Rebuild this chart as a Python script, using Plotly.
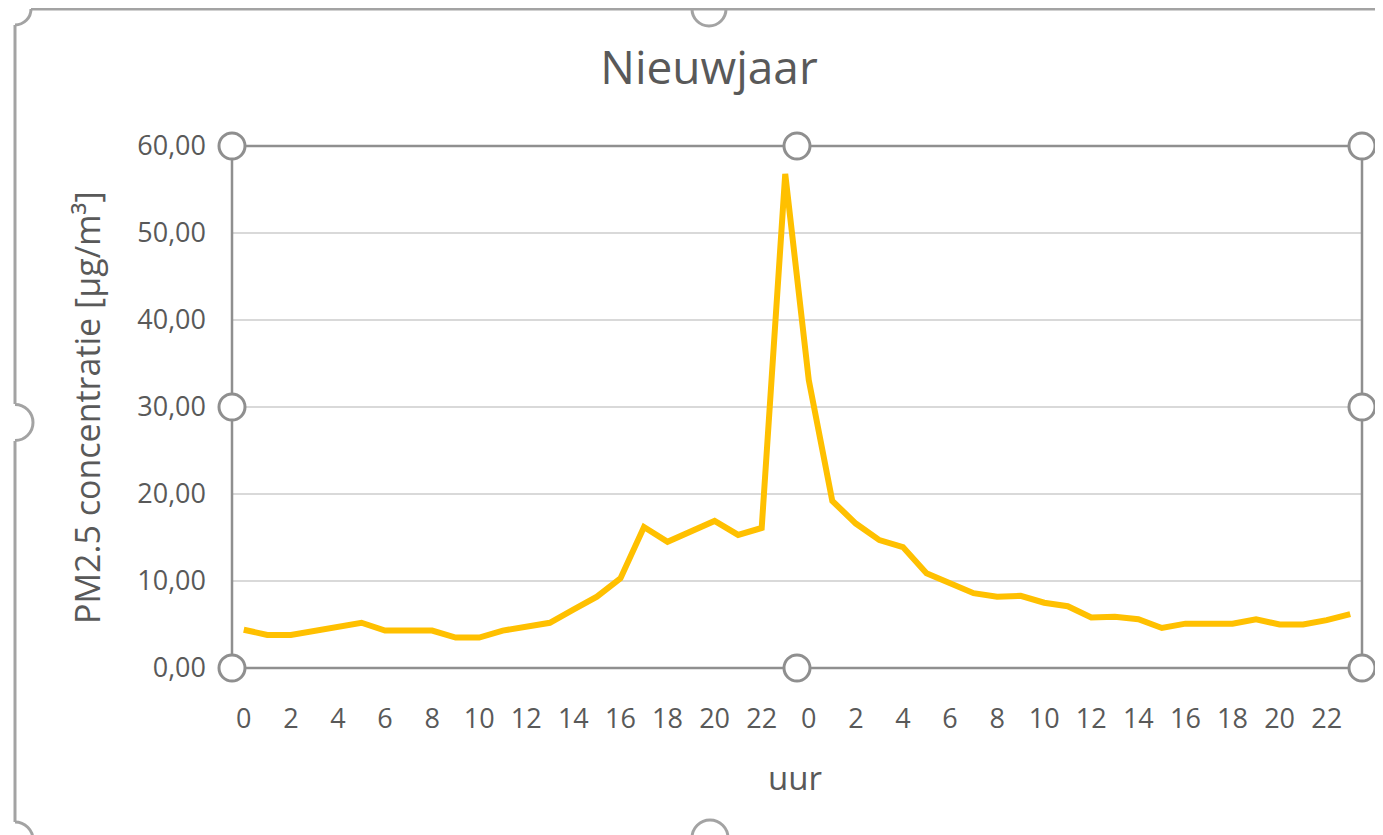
import math

import plotly.graph_objects as go

# PM2.5 per uur, twee dagen achter elkaar (oudejaarsdag en nieuwjaarsdag)
hours = list(range(24)) + list(range(24))
pm25 = [
    4.4, 3.8, 3.8, 4.3, 4.8, 5.2, 4.3, 4.3, 4.3, 3.5, 3.5, 4.3,
    4.8, 5.2, 6.7, 8.2, 10.3, 16.2, 14.5, 15.7, 16.9, 15.3, 16.1, 56.8,
    33.1, 19.2, 16.6, 14.7, 13.9, 10.9, 9.7, 8.6, 8.2, 8.3, 7.5, 7.1,
    5.8, 5.9, 5.6, 4.6, 5.1, 5.1, 5.1, 5.6, 5.0, 5.0, 5.5, 6.2,
]
tick_idx = list(range(0, 48, 2))
tick_text = [str(hours[i]) for i in tick_idx]
y_ticks = [0, 10, 20, 30, 40, 50, 60]

W, H = 1383, 835
OFF = 8                             # page body margin, figure starts at (8, 8)
L, R, T, B = 232, 1362, 146, 668    # plot area in screen pixels
FONT = "Open Sans"
TXT = "#595959"
HANDLE = "#8f8f8f"


def px(x, y):
    return (x - L) / (R - L), (B - y) / (B - T)


def arc(cx, cy, r, a0, a1):
    # cubic bezier arc in pixel space, returned as a paper-space path
    n = max(1, math.ceil(abs(a1 - a0) / (math.pi / 2)))
    step = (a1 - a0) / n
    k = 4 / 3 * math.tan(step / 4)
    p = px(cx + r * math.cos(a0), cy + r * math.sin(a0))
    d = f"M{p[0]},{p[1]}"
    for i in range(n):
        t0 = a0 + i * step
        t1 = t0 + step
        c1 = px(cx + r * (math.cos(t0) - k * math.sin(t0)), cy + r * (math.sin(t0) + k * math.cos(t0)))
        c2 = px(cx + r * (math.cos(t1) + k * math.sin(t1)), cy + r * (math.sin(t1) - k * math.cos(t1)))
        e = px(cx + r * math.cos(t1), cy + r * math.sin(t1))
        d += f" C{c1[0]},{c1[1]} {c2[0]},{c2[1]} {e[0]},{e[1]}"
    return d


def seg(x0, y0, x1, y1):
    a, b = px(x0, y0), px(x1, y1)
    return f"M{a[0]},{a[1]} L{b[0]},{b[1]}"


fig = go.Figure()
fig.add_trace(go.Scatter(
    x=list(range(len(pm25))), y=pm25, mode="lines",
    line=dict(color="#FFC000", width=6), hoverinfo="y", showlegend=False,
))

shapes = []
# outer chart frame with selection handles
frame = "#a3a3a3"
for d in [
    seg(31, 9, W + 5, 9),
    seg(15, 25, 15, 404),
    seg(15, 441, 15, 822),
    arc(15, 9, 16, 0, math.pi / 2),
    arc(709, 9, 17, 0, math.pi),
    arc(15, 422.5, 18, -math.pi / 2, math.pi / 2),
    arc(15, 840, 18, -math.pi / 2, 0),
    arc(710, 838, 18, math.pi, 2 * math.pi),
]:
    shapes.append(dict(type="path", path=d, xref="paper", yref="paper",
                       line=dict(color=frame, width=3), layer="above"))

# plot area border
shapes.append(dict(type="rect", xref="paper", yref="paper", x0=0, x1=1, y0=0, y1=1,
                   line=dict(color=HANDLE, width=2.5), layer="above"))
# plot area handles
for hx, hy in [(L, T), ((L + R) / 2, T), (R, T), (L, (T + B) / 2), (R, (T + B) / 2),
               (L, B), ((L + R) / 2, B), (R, B)]:
    a, b = px(hx - 13, hy + 13), px(hx + 13, hy - 13)
    shapes.append(dict(type="circle", xref="paper", yref="paper",
                       x0=a[0], y0=a[1], x1=b[0], y1=b[1],
                       fillcolor="white", line=dict(color=HANDLE, width=3), layer="above"))

annotations = [
    dict(text="uur", xref="paper", yref="paper", x=px(795, 0)[0], y=px(0, 777)[1],
         xanchor="center", yanchor="middle", showarrow=False,
         font=dict(family=FONT, size=33, color=TXT)),
    dict(text="PM2.5 concentratie [μg/m³]", xref="paper", yref="paper",
         x=px(87, 0)[0], y=px(0, 408)[1], xanchor="center", yanchor="middle",
         textangle=-90, showarrow=False,
         font=dict(family=FONT, size=34, color=TXT)),
]

fig.update_layout(
    width=W, height=H,
    margin=dict(l=L - OFF, r=W - R + OFF, t=T - OFF, b=H - B + OFF, autoexpand=False),
    paper_bgcolor="white", plot_bgcolor="white",
    separators=",.",
    title=dict(text="Nieuwjaar", x=(709 - OFF) / W, y=1 - (68 - OFF) / H,
               xref="container", yref="container", xanchor="center", yanchor="middle",
               font=dict(family=FONT, size=46, color=TXT)),
    xaxis=dict(range=[-0.5, 47.5], tickmode="array", tickvals=tick_idx, ticktext=tick_text,
               showgrid=False, zeroline=False, showline=False, ticks="",
               ticklabelstandoff=32, tickfont=dict(family=FONT, size=27, color=TXT)),
    yaxis=dict(range=[0, 60], tickmode="array", tickvals=y_ticks, tickformat=".2f",
               showgrid=True, gridcolor="#d9d9d9", gridwidth=2, zeroline=False,
               showline=False, ticks="", ticklabelstandoff=25,
               tickfont=dict(family=FONT, size=27, color=TXT)),
    shapes=shapes,
    annotations=annotations,
)

fig.write_html("out.html")
